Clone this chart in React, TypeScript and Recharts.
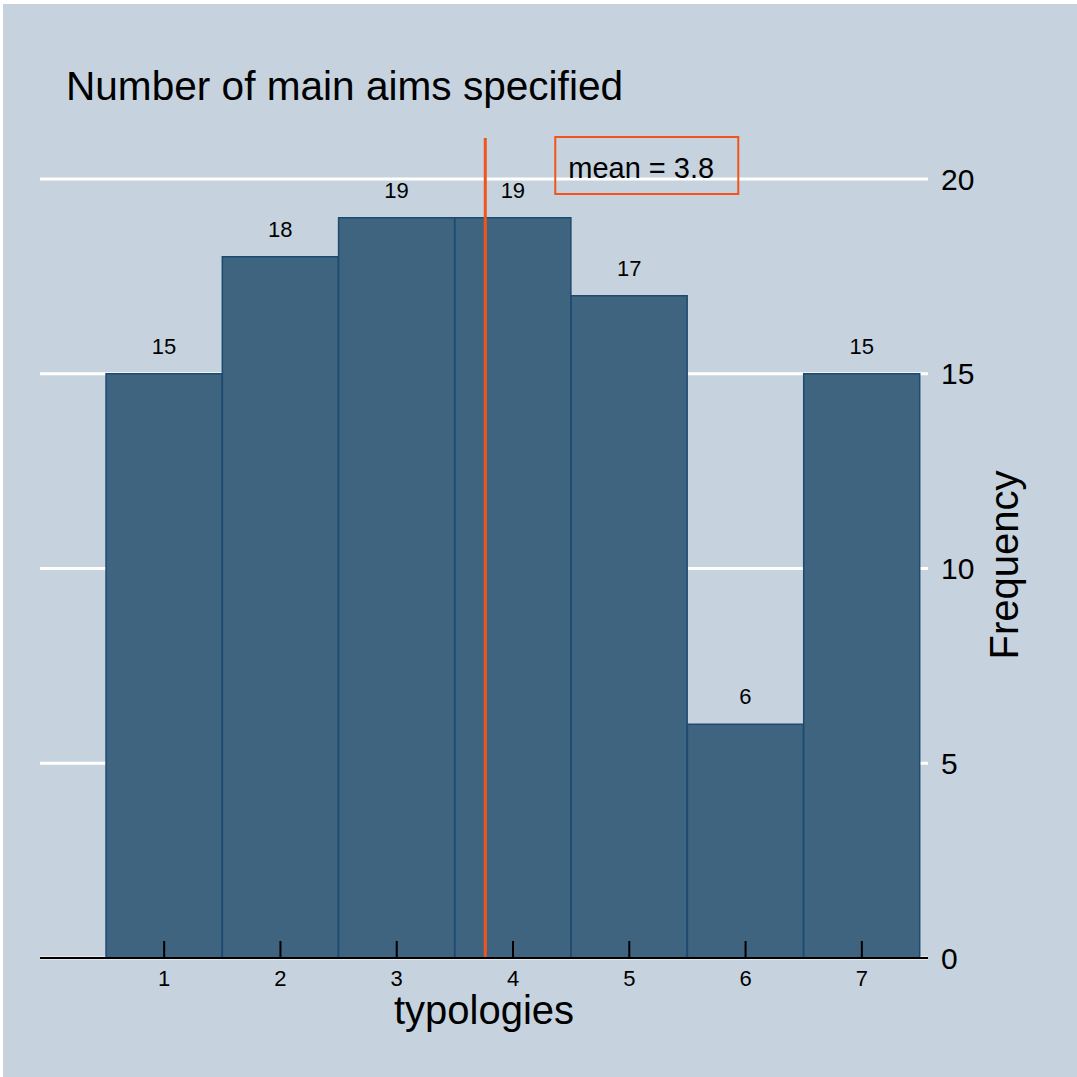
import React from 'react';
import {
  ComposedChart,
  Bar,
  XAxis,
  YAxis,
  CartesianGrid,
  ReferenceLine,
  LabelList,
} from 'recharts';

const typologies = [1, 2, 3, 4, 5, 6, 7];
const frequencies = [15, 18, 19, 19, 17, 6, 15];
const yTicks = [0, 5, 10, 15, 20];
const titleText = 'Number of main aims specified';
const xTitle = 'typologies';
const yTitle = 'Frequency';

const data = typologies.map((t, i) => ({ t, f: frequencies[i] }));
const total = frequencies.reduce((a, b) => a + b, 0);
const mean = typologies.reduce((s, t, i) => s + t * frequencies[i], 0) / total;
const meanLabel = `mean = ${mean.toFixed(1)}`;

const FONT = '"Liberation Sans", Arial, Helvetica, sans-serif';
const BG = '#c6d3df';
const BAR_FILL = '#3e647f';
const BAR_STROKE = '#1d4a70';
const MEAN_COLOR = '#f2541b';

const XTick = (props: any) => {
  const { x, y, payload } = props;
  return (
    <g>
      <line x1={x} x2={x} y1={y} y2={y - 17} stroke="#000" strokeWidth={2} />
      <text x={x} y={y + 28} textAnchor="middle" fontSize={22} fontFamily={FONT} fill="#000">
        {payload.value}
      </text>
    </g>
  );
};

const MeanLabel = (props: any) => {
  const { viewBox } = props;
  const x = viewBox.x;
  const y = viewBox.y;
  return (
    <g>
      <rect x={x + 70} y={y - 1} width={183} height={57} fill="none" stroke={MEAN_COLOR} strokeWidth={2} />
      <text x={x + 83} y={y + 40} fontSize={29} fontFamily={FONT} fill="#000">
        {meanLabel}
      </text>
    </g>
  );
};

const YTitle = (props: any) => {
  const { viewBox } = props;
  const x = viewBox.x + 90;
  const y = viewBox.y + viewBox.height / 2 + 17;
  return (
    <text
      x={x}
      y={y}
      transform={`rotate(-90 ${x} ${y})`}
      textAnchor="middle"
      fontSize={40}
      fontFamily={FONT}
      fill="#000"
    >
      {yTitle}
    </text>
  );
};

export default function App() {
  return (
    <div style={{ position: 'fixed', left: 0, top: 0, width: 1077, height: 1077, background: '#ffffff' }}>
      <div style={{ position: 'absolute', left: 3, top: 4, width: 1074, height: 1073, background: BG }} />
      <div
        style={{
          position: 'absolute',
          left: 66,
          top: 62,
          fontFamily: FONT,
          fontSize: 40.6,
          color: '#000',
          lineHeight: '48px',
          whiteSpace: 'nowrap',
        }}
      >
        {titleText}
      </div>
      <div style={{ position: 'absolute', left: 0, top: 0 }}>
        <ComposedChart
          width={1077}
          height={1077}
          data={data}
          margin={{ top: 138, right: 59, bottom: 44, left: 40 }}
          barCategoryGap={0}
          barGap={0}
        >
          <CartesianGrid
            vertical={false}
            horizontalValues={yTicks}
            stroke="#ffffff"
            strokeWidth={3}
            strokeDasharray=""
          />
          <XAxis
            dataKey="t"
            type="number"
            domain={[-0.068, 7.569]}
            ticks={typologies}
            allowDataOverflow
            height={75}
            tickLine={false}
            tickSize={0}
            tickMargin={0}
            axisLine={{ stroke: '#000', strokeWidth: 2 }}
            tick={<XTick />}
            label={{ value: xTitle, position: 'insideBottom', offset: 9, fontSize: 40, fill: '#000', fontFamily: FONT }}
          />
          <YAxis
            orientation="right"
            domain={[0, 21.05]}
            ticks={yTicks}
            allowDataOverflow
            width={90}
            axisLine={false}
            tickLine={false}
            tickMargin={7}
            tick={{ fontSize: 30, fill: '#000', fontFamily: FONT }}
            label={<YTitle />}
          />
          <Bar dataKey="f" fill={BAR_FILL} stroke={BAR_STROKE} strokeWidth={1.5} isAnimationActive={false}>
            <LabelList dataKey="f" position="top" offset={20} fontSize={22} fill="#000" fontFamily={FONT} />
          </Bar>
          <ReferenceLine x={mean} stroke={MEAN_COLOR} strokeWidth={3} label={<MeanLabel />} ifOverflow="extendDomain" />
        </ComposedChart>
      </div>
    </div>
  );
}
